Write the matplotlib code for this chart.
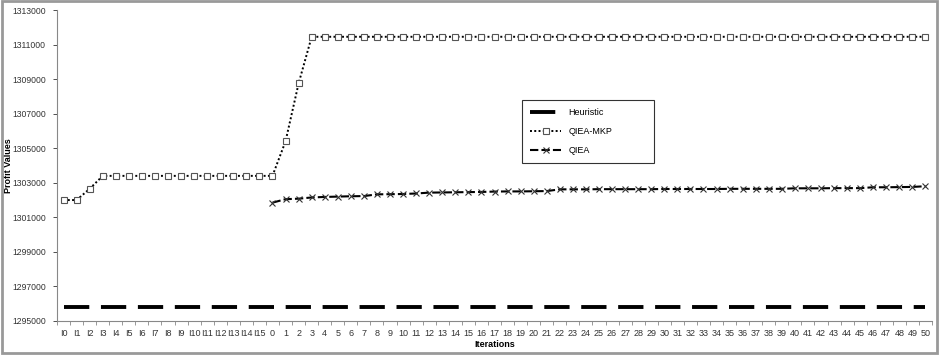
import numpy as np
import matplotlib.pyplot as plt
from matplotlib.patches import Rectangle

# category labels: initial phase I0..I15 followed by iterations 0..50
init_labels = ['I%d' % i for i in range(16)]
iter_labels = [str(i) for i in range(51)]
categories = init_labels + iter_labels

heuristic = [1295800] * len(categories)

qiea_mkp_init = [1302000, 1302000, 1302650, 1303400, 1303400, 1303400, 1303400, 1303400,
                 1303400, 1303400, 1303400, 1303400, 1303400, 1303400, 1303400, 1303400]
qiea_mkp_iter = [1303400, 1305400, 1308750] + [1311450] * 48

qiea_iter = [1301850, 1302050, 1302080, 1302150, 1302180, 1302200, 1302220, 1302230,
             1302330, 1302340, 1302350, 1302380, 1302430, 1302440, 1302450, 1302460,
             1302470, 1302490, 1302500, 1302500, 1302510, 1302520, 1302620, 1302620,
             1302620, 1302630, 1302630, 1302630, 1302630, 1302630, 1302640, 1302640,
             1302640, 1302640, 1302640, 1302650, 1302650, 1302650, 1302650, 1302650,
             1302680, 1302680, 1302680, 1302690, 1302690, 1302690, 1302740, 1302740,
             1302750, 1302760, 1302800]

plt.rcParams['font.family'] = ['Liberation Sans', 'DejaVu Sans']

fig = plt.figure(figsize=(9.39, 3.55), dpi=100)
ax = fig.add_axes([57 / 939, 1 - 321 / 355, 875 / 939, 311 / 355])

x = np.arange(len(categories))
n0 = len(init_labels)

ax.plot(x, heuristic, color='black', lw=2.8, dashes=(6.5, 3), label='Heuristic')
ax.plot(x, qiea_mkp_init + qiea_mkp_iter, color='black', lw=1.4, linestyle=(0, (1, 1.2)),
        marker='s', markersize=5, markerfacecolor='white', markeredgecolor='#555555',
        markeredgewidth=0.8, label='QIEA-MKP')
ax.plot(x[n0:], qiea_iter, color='black', lw=1.5, dashes=(4, 1.5),
        marker='x', markersize=4, markeredgewidth=0.8, markeredgecolor='#333333',
        label='QIEA')

ax.set_xlim(-0.5, len(categories) - 0.5)
ax.set_ylim(1295000, 1313000)
ax.set_yticks(np.arange(1295000, 1313001, 2000))
ax.set_yticklabels([str(v) for v in range(1295000, 1313001, 2000)])
ax.tick_params(axis='y', labelsize=6.2, colors='#333333', length=3, width=0.6, pad=5)

ax.set_xticks(np.arange(-0.5, len(categories), 1))
ax.set_xticklabels([])
ax.set_xticks(x, minor=True)
ax.set_xticklabels(categories, minor=True, fontsize=6.5, color='#333333')
ax.tick_params(axis='x', which='major', length=3, width=0.6, colors='#888888')
ax.tick_params(axis='x', which='minor', length=0, pad=6)

for s in ['top', 'right']:
    ax.spines[s].set_visible(False)
for s in ['left', 'bottom']:
    ax.spines[s].set_color('#888888')
    ax.spines[s].set_linewidth(0.8)

ax.set_ylabel('Profit Values', fontsize=6.5, fontweight='bold')
ax.yaxis.set_label_coords(-0.05, 0.5)
ax.set_xlabel('Iterations', fontsize=6.5, fontweight='bold', labelpad=1)

leg = ax.legend(loc='upper left', bbox_to_anchor=(0.526, 0.534, 0.161, 0.19),
                mode='expand', fontsize=6.5, frameon=True, fancybox=False,
                edgecolor='black', handlelength=3.5, labelspacing=1.1, borderpad=0.9)
leg.get_frame().set_linewidth(0.8)

# outer chart border
fig.patches.append(Rectangle((0.002, 0.006), 0.996, 0.99, transform=fig.transFigure,
                             fill=False, edgecolor='#999999', lw=2))

fig.savefig('out.png', dpi=100)
